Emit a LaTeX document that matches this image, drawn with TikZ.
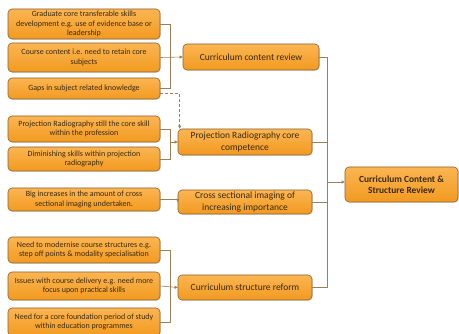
\documentclass[tikz,border=0pt]{standalone}
\usepackage{fontspec}
\setmainfont{Carlito}
\usetikzlibrary{arrows.meta,shadows,calc}
\definecolor{boxtop}{HTML}{FBB552}
\definecolor{boxbot}{HTML}{F29A20}
\definecolor{boxline}{HTML}{8A6230}
\definecolor{conn}{HTML}{9C7F55}
\definecolor{txt}{HTML}{3A2A12}
\begin{document}
\begin{tikzpicture}[x=1pt,y=-1pt,
  box/.style={draw=boxline, line width=0.6pt, rounded corners=4pt,
    top color=boxtop, bottom color=boxbot, text=txt, align=center,
    inner sep=0pt,
    drop shadow={opacity=0.25, shadow xshift=0.8pt, shadow yshift=-0.8pt}},
  leftbox/.style={box, minimum width=152pt, font=\fontsize{8}{9.6}\selectfont},
  midbox/.style={box, font=\fontsize{9.5}{11.2}\selectfont},
  conn/.style={draw=conn, line width=0.6pt},
  tip/.style={-{Triangle[length=3pt,width=3pt]}}
]
\useasboundingbox (0,0) rectangle (459,334);
\fill[white] (0,0) rectangle (459,334);

% left boxes
\node[leftbox, minimum height=30pt] (b1) at (84,24) {Graduate core transferable skills\\development e.g. use of evidence base or\\leadership};
\node[leftbox, minimum height=29pt] (b2) at (84,57.5) {Course content i.e. need to retain core\\subjects};
\node[leftbox, minimum height=21pt] (b3) at (84,88.5) {Gaps in subject related knowledge};
\node[leftbox, minimum height=26pt] (b4) at (84,129) {Projection Radiography still the core skill\\within the profession};
\node[leftbox, minimum height=24pt] (b5) at (84,159) {Diminishing skills within projection\\radiography};
\node[leftbox, minimum height=23pt] (b6) at (84,199.5) {Big increases in the amount of cross\\sectional imaging undertaken.};
\node[leftbox, minimum height=26pt] (b7) at (84,250) {Need to modernise course structures e.g.\\step off points \& modality specialisation};
\node[leftbox, minimum height=28pt] (b8) at (84,286) {Issues with course delivery e.g. need more\\focus upon practical skills};
\node[leftbox, minimum height=28pt] (b9) at (84,322) {Need for a core foundation period of study\\within education programmes};

% middle boxes
\node[midbox, minimum width=136pt, minimum height=26pt] (m1) at (251,57) {Curriculum content review};
\node[midbox, minimum width=134pt, minimum height=26pt] (m2) at (245,142) {Projection Radiography core\\competence};
\node[midbox, minimum width=134pt, minimum height=24pt] (m3) at (245,202) {Cross sectional imaging of\\increasing importance};
\node[midbox, minimum width=134pt, minimum height=25pt] (m4) at (245,287.5) {Curriculum structure reform};

% final box
\node[box, minimum width=113pt, minimum height=35pt, font=\fontsize{9.4}{11.5}\selectfont\bfseries] (F) at (401.5,184.5) {Curriculum Content \&\\Structure Review};

\coordinate (jl) at (170,0);
\coordinate (jr) at (327,0);

% group 1
\draw[conn] (b1.east) -- (b1.east -| jl) -- (b3.east -| jl) -- (b3.east);
\draw[conn,tip] (b2.east) -- (m1.west);
% dashed
\coordinate (d0) at ($(b3.east)+(0,5)$);
\coordinate (d1) at ([xshift=2pt]m2.north west);
\draw[conn,tip,dashed,dash pattern=on 3pt off 2pt] (d0) -| (d1);

% group 2
\draw[conn] (b4.east) -- (b4.east -| jl) -- (b5.east -| jl) -- (b5.east);
\draw[conn,tip] (m2.west -| jl) -- (m2.west);

% group 3
\draw[conn,tip] (b6.east) -- (b6.east -| m3.west) -- (m3.west);

% group 4
\draw[conn] (b7.east) -- (b7.east -| jl) -- (b9.east -| jl) -- (b9.east);
\draw[conn,tip] (b8.east) -- (m4.west);

% right
\draw[conn] (m1.east) -- (m1.east -| jr) -- (m4.east -| jr) -- (m4.east);
\draw[conn] (m2.east) -- (m2.east -| jr);
\draw[conn] (m3.east) -- (m3.east -| jr);
\coordinate (fa) at ($(F.west)+(0,-2.5)$);
\draw[conn,tip] (fa -| jr) -- (fa);
\end{tikzpicture}
\end{document}
